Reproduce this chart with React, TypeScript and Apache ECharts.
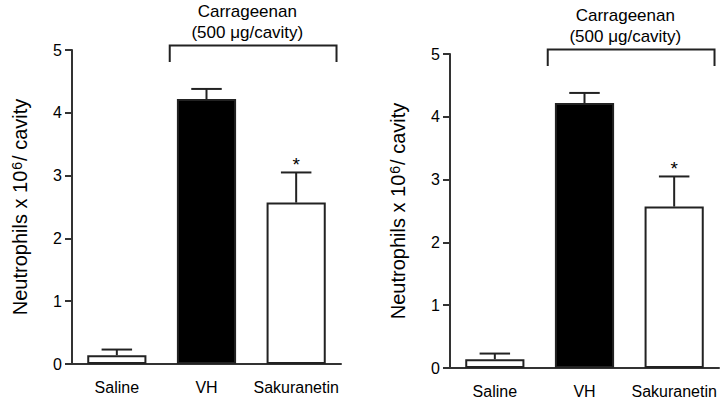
import React, { useEffect, useRef } from 'react';
import * as echarts from 'echarts';

const categories = ['Saline', 'VH', 'Sakuranetin'];
const means = [0.14, 4.22, 2.57];
const upperErrors = [0.23, 4.38, 3.05];
const barFills = ['#ffffff', '#000000', '#ffffff'];
const significance = ['', '', '*'];
const yMin = 0;
const yMax = 5;
const yInterval = 1;
const bracketText = 'Carrageenan\n(500 μg/cavity)';
const bracketFrom = 1;
const bracketTo = 2;
const bracketTop = 5.07;
const bracketEnd = 4.81;
const yTitle = '{a|Neutrophils x 10}{b|6}{a|/ cavity}';

const FONT = '"Liberation Sans", Arial, sans-serif';
const INK = '#222';
const AXIS = '#333';

export default function App() {
  const ref = useRef<HTMLDivElement>(null);
  useEffect(() => {
    document.body.style.margin = '0';
    if (!ref.current) return;
    const chart = echarts.init(ref.current, undefined, { renderer: 'svg' });
    const grids = [
      { left: 72, top: 50, width: 269, height: 314 },
      { left: 450, top: 54, width: 269, height: 314 },
    ];
    const xAxes = grids.map((_, i) => ({
      type: 'category',
      gridIndex: i,
      data: categories,
      axisLine: { lineStyle: { color: AXIS, width: 2 } },
      axisTick: { alignWithLabel: true, length: 8, lineStyle: { color: AXIS, width: 2 } },
      axisLabel: { interval: 0, color: '#000', fontSize: 16, fontFamily: FONT, margin: 15 },
    }));
    const yAxes = grids.map((_, i) => ({
      type: 'value',
      gridIndex: i,
      min: yMin,
      max: yMax,
      interval: yInterval,
      name: yTitle,
      nameLocation: 'middle',
      nameGap: 42,
      nameTextStyle: {
        rich: {
          a: { fontSize: 20, fontFamily: FONT, color: '#000' },
          b: { fontSize: 14, fontFamily: FONT, color: '#000', verticalAlign: 'top', padding: [0, 1, 6, 1] },
        },
      },
      splitLine: { show: false },
      axisLine: { show: true, lineStyle: { color: AXIS, width: 2 } },
      axisTick: { show: true, length: 7, lineStyle: { color: AXIS, width: 2 } },
      axisLabel: { color: '#000', fontSize: 16, fontFamily: FONT, margin: 10 },
    }));
    const series: any[] = [];
    grids.forEach((_, i) => {
      series.push({
        type: 'bar',
        xAxisIndex: i,
        yAxisIndex: i,
        barWidth: '66%',
        data: means.map((v, k) => ({
          value: v,
          itemStyle: { color: barFills[k], borderColor: INK, borderWidth: 2 },
        })),
      });
      series.push({
        type: 'custom',
        xAxisIndex: i,
        yAxisIndex: i,
        clip: false,
        z: 5,
        data: means.map((v, k) => [k, v, upperErrors[k]]),
        renderItem: (params: any, api: any) => {
          const x = api.value(0);
          const base = api.coord([x, api.value(1)]);
          const top = api.coord([x, api.value(2)]);
          const half = api.size([1, 0])[0] * 0.17;
          const sig = significance[params.dataIndex];
          const children: any[] = [
            { type: 'line', shape: { x1: top[0], y1: top[1], x2: base[0], y2: base[1] }, style: { stroke: INK, lineWidth: 2 } },
            { type: 'line', shape: { x1: top[0] - half, y1: top[1], x2: top[0] + half, y2: top[1] }, style: { stroke: INK, lineWidth: 2 } },
          ];
          if (sig) {
            children.push({
              type: 'text',
              style: { text: sig, x: top[0], y: top[1] - 8, align: 'center', verticalAlign: 'middle', fontSize: 19, fontFamily: FONT, fill: '#000' },
            });
          }
          return { type: 'group', children };
        },
      });
      series.push({
        type: 'custom',
        xAxisIndex: i,
        yAxisIndex: i,
        clip: false,
        z: 5,
        data: [[bracketFrom, bracketTo, bracketTop, bracketEnd]],
        renderItem: (params: any, api: any) => {
          const bw = api.size([1, 0])[0];
          const a = api.coord([api.value(0), api.value(2)]);
          const b = api.coord([api.value(1), api.value(2)]);
          const e = api.coord([api.value(0), api.value(3)]);
          const x1 = a[0] - 0.41 * bw;
          const x2 = b[0] + 0.45 * bw;
          return {
            type: 'group',
            children: [
              { type: 'polyline', shape: { points: [[x1, e[1]], [x1, a[1]], [x2, a[1]], [x2, e[1]]] }, style: { stroke: INK, lineWidth: 2, fill: 'none' } },
              {
                type: 'text',
                style: { text: bracketText, x: (a[0] + b[0]) / 2 - 4, y: a[1] - 3, align: 'center', verticalAlign: 'bottom', fontSize: 17, lineHeight: 21, fontFamily: FONT, fill: '#000' },
              },
            ],
          };
        },
      });
    });
    chart.setOption({
      animation: false,
      backgroundColor: '#fff',
      grid: grids,
      xAxis: xAxes,
      yAxis: yAxes,
      series,
    });
    return () => chart.dispose();
  }, []);
  return <div ref={ref} style={{ width: 722, height: 402 }} />;
}
